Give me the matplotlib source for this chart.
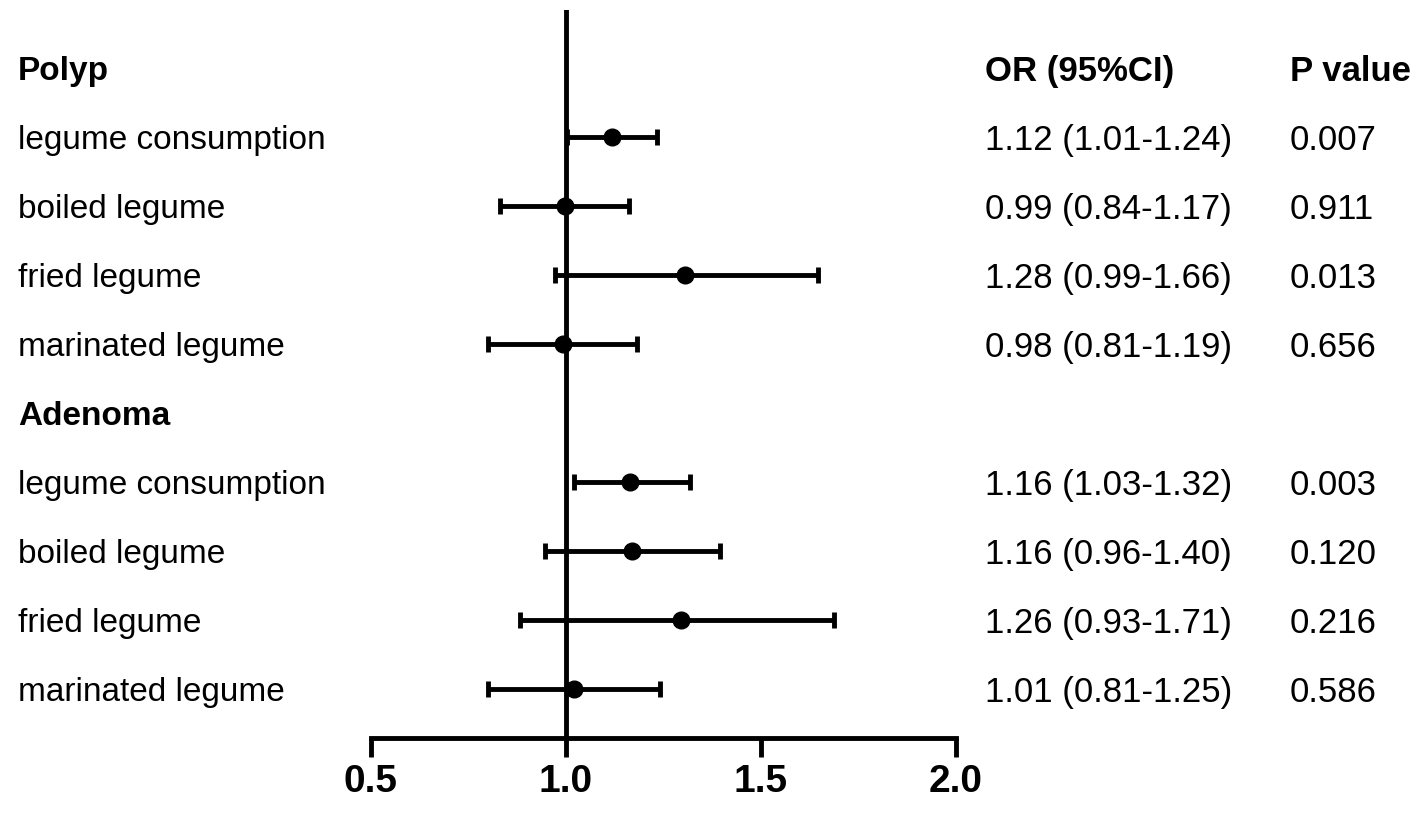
import matplotlib.pyplot as plt
from matplotlib.transforms import blended_transform_factory

# Rótulos das linhas (cabeçalhos de grupo em negrito)
labels = ['Polyp', 'legume consumption', 'boiled legume', 'fried legume', 'marinated legume',
          'Adenoma', 'legume consumption', 'boiled legume', 'fried legume', 'marinated legume']
is_header = [True, False, False, False, False, True, False, False, False, False]

# Valores (None nos cabeçalhos)
odds = [None, 1.118, 0.997, 1.305, 0.992, None, 1.164, 1.169, 1.295, 1.020]
ci_low = [None, 1.003, 0.831, 0.972, 0.800, None, 1.020, 0.946, 0.882, 0.800]
ci_high = [None, 1.233, 1.162, 1.646, 1.182, None, 1.318, 1.395, 1.687, 1.241]

or_text = ['OR (95%CI)', '1.12 (1.01-1.24)', '0.99 (0.84-1.17)', '1.28 (0.99-1.66)', '0.98 (0.81-1.19)',
           '', '1.16 (1.03-1.32)', '1.16 (0.96-1.40)', '1.26 (0.93-1.71)', '1.01 (0.81-1.25)']
p_text = ['P value', '0.007', '0.911', '0.013', '0.656',
          '', '0.003', '0.120', '0.216', '0.586']

xticks = [0.5, 1.0, 1.5, 2.0]
xticklabels = ['0.5', '1.0', '1.5', '2.0']

plt.rcParams['font.family'] = ['Liberation Sans', 'DejaVu Sans']

fig = plt.figure(figsize=(14.17, 8.14), dpi=100)
ax = fig.add_axes([0.2618, 0.0934, 0.4129, 0.8943])

rows = list(range(len(labels)))
for i in rows:
    if odds[i] is None:
        continue
    ax.errorbar(odds[i], i, xerr=[[odds[i] - ci_low[i]], [ci_high[i] - odds[i]]],
                fmt='o', color='black', markersize=12, elinewidth=3.5, capsize=6,
                capthick=3.5, zorder=3)

ax.axvline(1.0, color='black', linewidth=3.5, zorder=2)

ax.set_xlim(0.5, 2.0)
ax.set_ylim(9.71, -0.84)
ax.set_xticks(xticks)
ax.set_xticklabels(xticklabels, fontsize=28, fontweight='bold')
ax.set_yticks([])
for lado in ['left', 'right', 'top']:
    ax.spines[lado].set_visible(False)
ax.spines['bottom'].set_linewidth(3.5)
ax.tick_params(axis='x', direction='out', length=14, width=3.5, pad=5)

# Colunas de texto à esquerda e à direita
trans = blended_transform_factory(fig.transFigure, ax.transData)
for i in rows:
    peso = 'bold' if is_header[i] else 'normal'
    ax.text(18 / 1417, i, labels[i], transform=trans, fontsize=24, fontweight=peso,
            va='center_baseline', ha='left', clip_on=False)
    ax.text(985 / 1417, i, or_text[i], transform=trans, fontsize=25, fontweight=peso,
            va='center_baseline', ha='left', clip_on=False)
    ax.text(1290 / 1417, i, p_text[i], transform=trans, fontsize=25, fontweight=peso,
            va='center_baseline', ha='left', clip_on=False)

plt.savefig('out.png', dpi=100)
